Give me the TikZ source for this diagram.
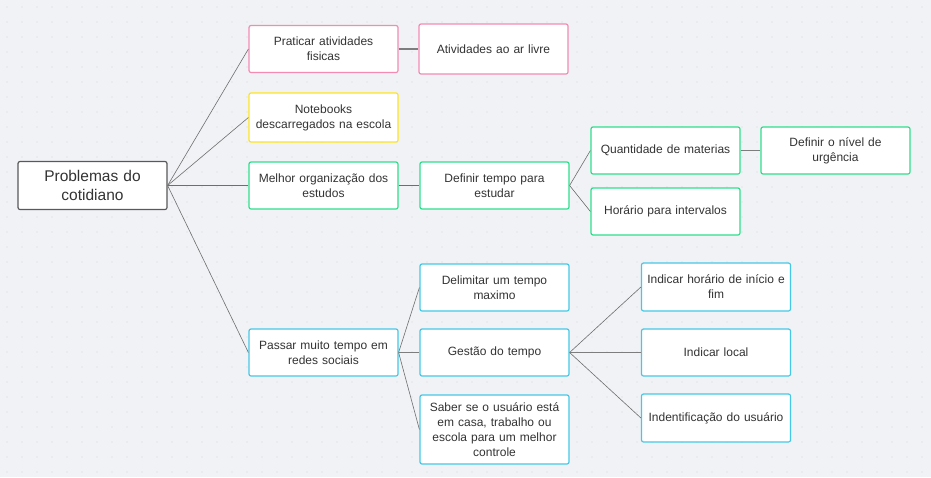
\documentclass[tikz,border=0pt]{standalone}
\usepackage{fontspec}
\setmainfont{Liberation Sans}

\definecolor{bggray}{HTML}{F1F2F5}
\definecolor{dotgray}{HTML}{D2D5DA}
\definecolor{textgray}{HTML}{333333}
\definecolor{linegray}{HTML}{6E6E6E}
\definecolor{rosa}{HTML}{F38BB3}
\definecolor{amarelo}{HTML}{FFE41C}
\definecolor{verde}{HTML}{2EE08C}
\definecolor{ciano}{HTML}{45C8E6}

\begin{document}
\begin{tikzpicture}[x=1pt,y=-1pt,draw=linegray]
    \tikzstyle{box}=[draw, rounded corners=2pt, fill=white, line width=1.2pt, minimum width=149pt, minimum height=47pt, inner sep=2pt, text width=145pt, align=center, text=textgray, font=\fontsize{12}{15}\selectfont]
    \tikzstyle{root box}=[box, draw=black!65, minimum height=48pt, font=\fontsize{15.5}{19}\selectfont]
    \tikzstyle{pink box}=[box, draw=rosa]
    \tikzstyle{yellow box}=[box, draw=amarelo]
    \tikzstyle{green box}=[box, draw=verde]
    \tikzstyle{cyan box}=[box, draw=ciano]
    \tikzstyle{link}=[draw=linegray, line width=0.6pt]
    \tikzstyle{thick link}=[draw=linegray!90, line width=1.6pt]

    % Background with dot grid
    \fill[bggray] (0,0) rectangle (931,477);
    \useasboundingbox (0,0) rectangle (931,477);
    \foreach \x in {0,15,...,915}
        \foreach \y in {0,15,...,465}
            \fill[dotgray] (\x+7,\y+7) circle (0.55pt);

    % Draw the root node
    \node[root box] (root) at (92.5,185.5) {Problemas do\\cotidiano};

    % Draw the first level nodes
    \node[pink box] (P-1) at (323.5,49) {Praticar atividades\\fisicas};
    \node[yellow box, minimum height=49pt] (P-2) at (323.5,117.5) {Notebooks\\descarregados na escola};
    \node[green box] (P-3) at (323.5,185.5) {Melhor organização dos\\estudos};
    \node[cyan box] (P-4) at (323.5,352.5) {Passar muito tempo em\\redes sociais};

    % Draw the second level nodes
    \node[pink box, minimum height=50pt] (A-1) at (493.5,49) {Atividades ao ar livre};
    \node[green box] (D-1) at (494.5,185.5) {Definir tempo para\\estudar};
    \node[green box] (D-2) at (665.5,150.5) {Quantidade de materias};
    \node[green box] (D-3) at (835.5,150.5) {Definir o nível de\\urgência};
    \node[green box] (D-4) at (665.5,211.5) {Horário para intervalos};
    \node[cyan box] (S-1) at (494.5,287.5) {Delimitar um tempo\\maximo};
    \node[cyan box] (S-2) at (494.5,352.5) {Gestão do tempo};
    \node[cyan box, minimum height=69pt] (S-3) at (494.5,429.5) {Saber se o usuário está\\em casa, trabalho ou\\escola para um melhor\\controle};
    \node[cyan box, minimum height=48pt] (G-1) at (716,287) {Indicar horário de início e\\fim};
    \node[cyan box] (G-2) at (716,352.5) {Indicar local};
    \node[cyan box, minimum height=48pt] (G-3) at (716,418) {Indentificação do usuário};

    % Connect the root with every first level node
    \foreach \dest in {1,2,3,4}
        \path[link] (root.east) edge (P-\dest.west);

    % Connect the remaining nodes
    \path[thick link] (P-1.east) edge (A-1.west);
    \path[link] (P-3.east) edge (D-1.west);
    \foreach \dest in {2,4}
        \path[link] (D-1.east) edge (D-\dest.west);
    \path[thick link] (D-2.east) edge (D-3.west);
    \foreach \dest in {1,3}
        \path[link] (P-4.east) edge (S-\dest.west);
    \path[thick link] (P-4.east) edge (S-2.west);
    \foreach \dest in {1,3}
        \path[link] (S-2.east) edge (G-\dest.west);
    \path[thick link] (S-2.east) edge (G-2.west);

\end{tikzpicture}
\end{document}
